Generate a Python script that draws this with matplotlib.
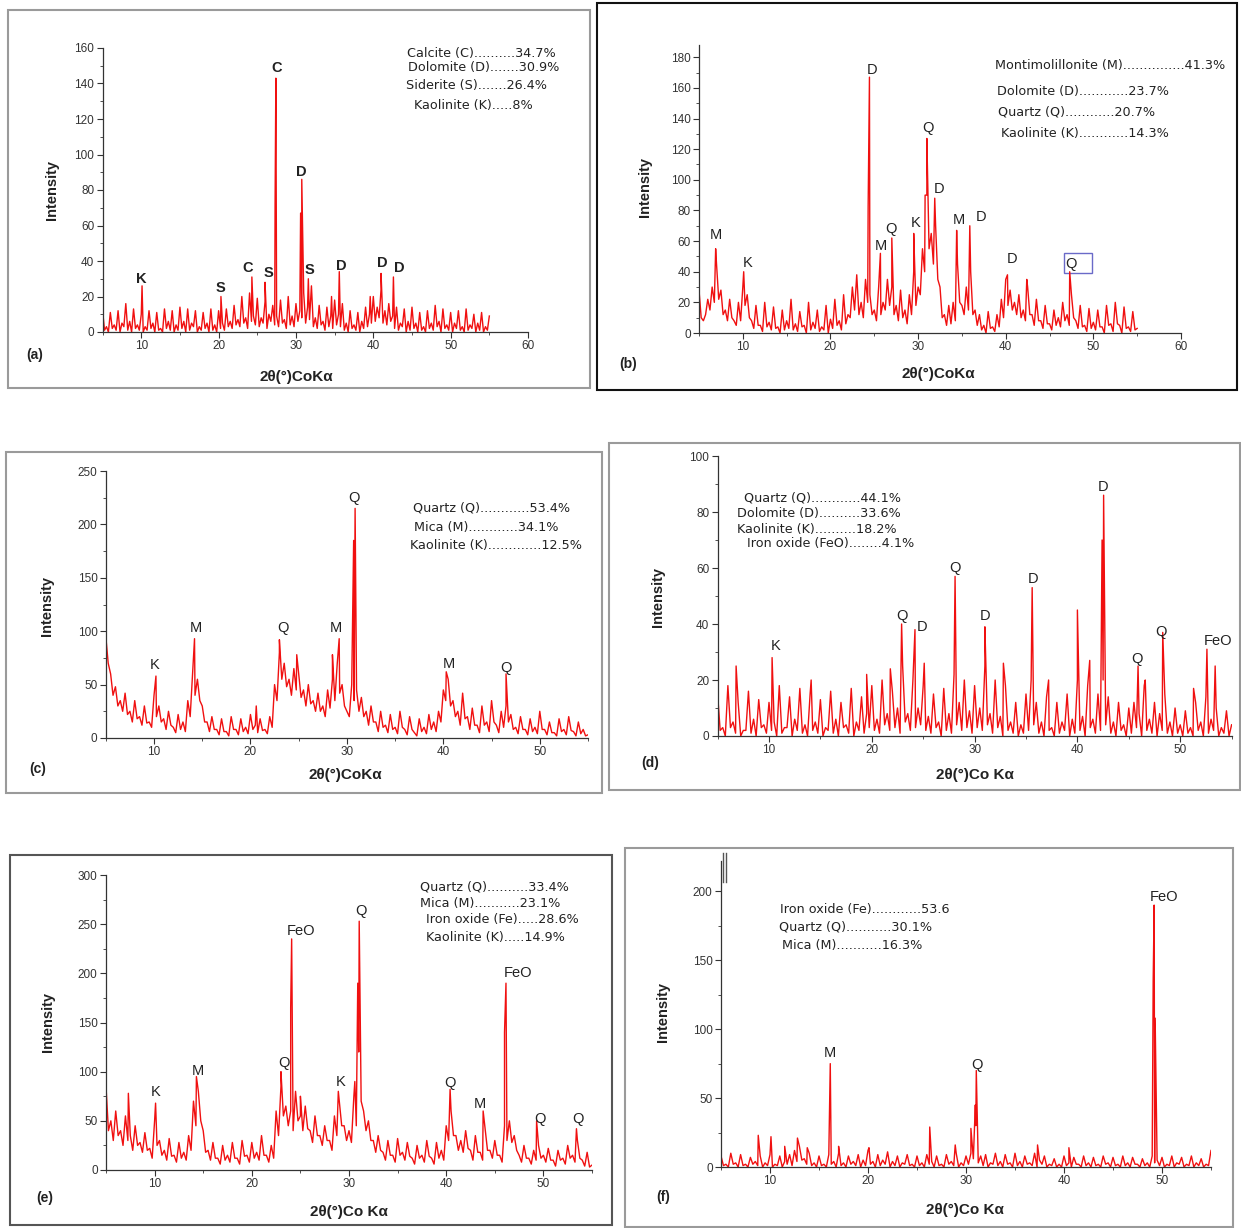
import numpy as np
import matplotlib
matplotlib.use("Agg")
import matplotlib.pyplot as plt
from matplotlib.patches import Rectangle
from matplotlib.lines import Line2D

plt.rcParams['font.family'] = ['Liberation Sans', 'DejaVu Sans']

W, H = 1241, 1228
RED = '#f01010'

# 2theta of the background readings: tops every 0.5 deg (5..55), troughs in between
two_theta = np.arange(5.0, 55.01, 0.5)
two_theta_tr = np.arange(5.25, 54.76, 0.5)

# ---- (a) ----
a_bg = [12, 3, 11, 4, 12, 5, 16, 6, 13, 4, 10, 3, 12, 5, 11, 2, 13, 6, 12, 4,
        14, 6, 13, 5, 12, 3, 11, 5, 13, 4, 12, 5, 13, 6, 15, 7, 20, 8, 22, 9,
        19, 8, 17, 10, 15, 9, 18, 7, 20, 9, 16, 12, 22, 14, 26, 8, 15, 6, 14, 9,
        18, 10, 16, 5, 12, 4, 11, 6, 14, 10, 20, 14, 24, 12, 16, 9, 14, 5, 13, 6,
        14, 5, 11, 3, 12, 5, 15, 6, 13, 4, 11, 5, 12, 3, 13, 4, 10, 5, 11, 3, 9]
a_tr = [1, 0, 2, 1, 0, 3, 1, 0, 2, 1, 0, 1, 2, 0, 1, 0, 2, 1, 0, 1,
        2, 0, 1, 3, 0, 1, 2, 0, 1, 0, 2, 1, 3, 2, 4, 3, 5, 2, 6, 4,
        3, 5, 2, 6, 4, 3, 5, 2, 4, 3, 6, 8, 5, 7, 3, 2, 4, 1, 3, 2,
        4, 3, 1, 0, 2, 1, 0, 2, 3, 5, 6, 8, 5, 4, 6, 2, 1, 3, 0, 1,
        2, 0, 1, 0, 2, 1, 3, 0, 2, 1, 0, 2, 1, 0, 1, 2, 0, 1, 0, 1]
a_peak_x = [10.1, 20.3, 24.3, 26.0, 27.3, 27.4, 30.6, 30.75, 31.6, 34.6, 35.6, 39.6, 41.0, 42.6]
a_peak_y = [26, 20, 31, 28, 72, 143, 67, 86, 30, 20, 34, 20, 33, 31]
a_labels = ['K', 'S', 'C', 'S', 'C', 'D', 'S', 'D', 'D', 'D']
a_label_x = [10.0, 20.2, 23.8, 26.4, 27.5, 30.7, 31.8, 35.9, 41.1, 43.3]
a_label_y = [30, 25, 36, 33, 149, 90, 35, 37, 39, 36]
a_comp = ["Calcite (C)..........34.7%", "Dolomite (D).......30.9%",
          "Siderite (S).......26.4%", "Kaolinite (K).....8%"]

# ---- (b) ----
b_bg = [28, 8, 22, 30, 45, 28, 15, 22, 8, 20, 30, 25, 8, 18, 5, 20, 7, 17, 4, 15,
        8, 22, 6, 14, 5, 20, 7, 15, 4, 18, 9, 22, 8, 25, 12, 30, 38, 20, 35, 25,
        15, 30, 20, 35, 30, 18, 28, 15, 25, 40, 30, 55, 90, 65, 70, 30, 12, 18, 20, 45,
        18, 30, 40, 15, 12, 5, 14, 4, 12, 22, 35, 28, 20, 25, 15, 30, 12, 22, 8, 18,
        6, 15, 10, 20, 12, 25, 8, 18, 5, 16, 7, 15, 4, 18, 6, 20, 5, 17, 4, 14, 3]
b_tr = [10, 12, 15, 20, 22, 12, 8, 10, 5, 8, 18, 10, 3, 5, 1, 4, 2, 3, 0, 2,
        3, 2, 1, 4, 0, 2, 3, 1, 2, 0, 3, 5, 2, 6, 10, 15, 12, 10, 20, 12,
        8, 12, 15, 18, 12, 8, 10, 6, 12, 18, 25, 40, 55, 45, 35, 10, 5, 6, 8, 20,
        12, 15, 12, 5, 2, 0, 3, 1, 4, 10, 18, 15, 12, 10, 8, 12, 5, 8, 3, 6,
        2, 5, 4, 8, 5, 10, 3, 4, 1, 3, 2, 4, 0, 5, 1, 6, 0, 3, 1, 2]
b_peak_x = [6.9, 10.1, 24.3, 24.45, 25.7, 27.0, 29.5, 30.8, 31.0, 31.9, 34.4, 35.9, 40.2, 42.4, 47.3]
b_peak_y = [55, 40, 82, 167, 52, 62, 65, 90, 127, 88, 67, 70, 38, 35, 40]
b_labels = ['M', 'K', 'D', 'M', 'Q', 'K', 'Q', 'D', 'M', 'D', 'D', 'Q']
b_label_x = [6.9, 10.6, 24.7, 25.8, 26.9, 29.7, 31.1, 32.4, 34.7, 37.2, 40.7, 47.4]
b_label_y = [64, 46, 172, 57, 68, 72, 134, 94, 74, 76, 48, 45]
b_comp = ["Montimolillonite (M)...............41.3%", "Dolomite (D)............23.7%",
          "Quartz (Q)............20.7%", "Kaolinite (K)............14.3%"]

# ---- (c) ----
c_bg = [95, 60, 48, 35, 42, 25, 35, 20, 30, 15, 40, 30, 18, 25, 10, 22, 15, 35, 60, 55,
        30, 15, 20, 8, 18, 6, 20, 8, 18, 10, 22, 12, 18, 8, 20, 50, 80, 70, 55, 65,
        60, 45, 50, 35, 42, 30, 45, 55, 70, 50, 25, 50, 45, 38, 25, 30, 15, 25, 12, 22,
        10, 25, 8, 20, 5, 18, 10, 22, 15, 25, 45, 55, 35, 25, 42, 20, 28, 12, 30, 15,
        35, 12, 25, 30, 22, 10, 20, 8, 18, 10, 25, 8, 15, 5, 18, 8, 20, 6, 15, 8, 3]
c_tr = [70, 40, 30, 25, 22, 15, 18, 12, 14, 10, 20, 15, 8, 12, 5, 8, 6, 20, 40, 35,
        15, 6, 8, 3, 6, 2, 8, 3, 6, 4, 8, 5, 7, 4, 10, 35, 55, 48, 40, 45,
        38, 30, 32, 25, 25, 20, 28, 35, 42, 30, 20, 35, 25, 20, 12, 15, 6, 10, 5, 8,
        4, 10, 3, 8, 2, 6, 4, 8, 6, 15, 35, 30, 20, 12, 18, 8, 12, 5, 12, 6,
        15, 5, 10, 15, 8, 4, 8, 3, 6, 4, 8, 3, 5, 2, 6, 3, 7, 2, 4, 2]
c_peak_x = [10.2, 14.2, 20.6, 23.0, 24.8, 28.5, 29.2, 30.7, 30.85, 40.3, 46.5]
c_peak_y = [58, 93, 30, 92, 78, 78, 93, 185, 215, 62, 60]
c_labels = ['K', 'M', 'Q', 'M', 'Q', 'M', 'Q']
c_label_x = [10.1, 14.3, 23.4, 28.9, 30.7, 40.6, 46.5]
c_label_y = [68, 103, 103, 103, 225, 69, 66]
c_comp = ["Quartz (Q)............53.4%", "Mica (M)............34.1%",
          "Kaolinite (K).............12.5%"]

# ---- (d) ----
d_bg = [15, 3, 18, 5, 12, 2, 16, 6, 13, 4, 12, 5, 18, 3, 14, 6, 17, 4, 15, 5,
        13, 3, 16, 6, 12, 4, 17, 5, 14, 8, 18, 6, 20, 8, 16, 10, 25, 8, 20, 10,
        18, 7, 15, 5, 17, 8, 22, 12, 20, 9, 18, 10, 25, 8, 20, 7, 18, 5, 12, 4,
        15, 20, 12, 5, 14, 3, 12, 5, 15, 6, 20, 7, 18, 6, 15, 20, 14, 5, 12, 4,
        10, 12, 8, 18, 6, 12, 8, 15, 5, 10, 4, 9, 3, 12, 5, 14, 6, 10, 3, 9, 4]
d_tr = [2, 0, 3, 1, 0, 2, 1, 0, 3, 1, 2, 0, 1, 3, 0, 2, 1, 0, 2, 1,
        0, 2, 1, 0, 3, 1, 0, 2, 1, 3, 2, 1, 4, 2, 3, 1, 5, 2, 3, 4,
        2, 1, 3, 0, 2, 1, 4, 2, 3, 1, 3, 2, 4, 1, 3, 0, 2, 1, 0, 1,
        2, 4, 1, 0, 2, 0, 1, 2, 0, 1, 2, 0, 3, 1, 2, 4, 1, 0, 2, 0,
        1, 3, 0, 2, 1, 0, 2, 1, 0, 1, 0, 1, 0, 2, 0, 1, 2, 0, 1, 0]
d_peak_x = [6.8, 10.3, 14.1, 19.5, 21.8, 22.9, 24.2, 25.1, 28.1, 31.0, 32.8, 35.6,
            37.2, 40.0, 41.2, 42.4, 42.55, 45.9, 46.6, 48.3, 51.3, 52.6, 53.4]
d_peak_y = [25, 28, 20, 22, 24, 40, 38, 26, 57, 39, 26, 53,
            20, 45, 27, 70, 86, 25, 20, 37, 17, 31, 25]
d_labels = ['K', 'Q', 'D', 'Q', 'D', 'D', 'D', 'Q', 'Q', 'FeO']
d_label_x = [10.6, 22.9, 24.9, 28.1, 31.0, 35.7, 42.5, 45.8, 48.1, 53.7]
d_label_y = [32, 43, 39, 60, 43, 56, 89, 27.5, 37, 34]
d_comp = ["Quartz (Q)............44.1%", "Dolomite (D)..........33.6%",
          "Kaolinite (K)..........18.2%", "Iron oxide (FeO)........4.1%"]

# ---- (e) ----
e_bg = [85, 50, 60, 40, 55, 35, 45, 28, 38, 22, 50, 30, 20, 32, 15, 28, 18, 35, 70, 80,
        40, 20, 28, 12, 25, 15, 28, 12, 30, 15, 28, 18, 35, 15, 25, 60, 85, 65, 60, 80,
        55, 65, 40, 55, 35, 45, 30, 55, 70, 45, 40, 75, 120, 60, 50, 30, 35, 18, 30, 15,
        32, 18, 28, 12, 25, 15, 30, 12, 28, 20, 45, 60, 35, 30, 40, 20, 35, 18, 42, 20,
        30, 15, 45, 50, 35, 15, 25, 12, 20, 25, 15, 22, 10, 20, 12, 25, 15, 30, 10, 18, 5]
e_tr = [40, 30, 35, 25, 30, 20, 25, 18, 20, 12, 25, 15, 10, 14, 8, 12, 10, 20, 45, 50,
        18, 10, 12, 6, 10, 8, 12, 6, 14, 8, 12, 10, 15, 8, 12, 35, 55, 45, 40, 50,
        40, 42, 28, 35, 25, 30, 20, 35, 45, 30, 28, 45, 70, 40, 30, 18, 20, 10, 15, 8,
        15, 10, 14, 6, 12, 8, 14, 6, 12, 10, 30, 35, 20, 18, 22, 10, 18, 10, 20, 12,
        15, 8, 30, 28, 20, 8, 12, 6, 10, 12, 8, 10, 4, 10, 6, 12, 8, 12, 4, 3]
e_peak_x = [7.3, 10.1, 14.3, 23.0, 24.0, 24.1, 25.0, 28.9, 30.6, 30.9, 31.05,
            40.4, 43.8, 46.0, 46.15, 49.3, 53.4]
e_peak_y = [78, 68, 95, 100, 165, 235, 75, 80, 90, 190, 253,
            82, 60, 140, 190, 50, 42]
e_labels = ['K', 'M', 'Q', 'FeO', 'K', 'Q', 'Q', 'M', 'FeO', 'Q', 'Q']
e_label_x = [10.1, 14.5, 23.3, 25.1, 29.1, 31.2, 40.4, 43.5, 47.4, 49.6, 53.6]
e_label_y = [79, 101, 109, 243, 90, 263, 88, 67, 200, 52, 52]
e_comp = ["Quartz (Q)..........33.4%", "Mica (M)...........23.1%",
          "Iron oxide (Fe).....28.6%", "Kaolinite (K).....14.9%"]

# ---- (f) ----
f_bg = [8, 2, 10, 3, 9, 2, 7, 4, 8, 3, 9, 2, 8, 4, 9, 12, 15, 6, 10, 3,
        8, 2, 9, 4, 10, 3, 8, 4, 9, 5, 12, 4, 9, 5, 11, 4, 8, 3, 9, 2,
        8, 3, 9, 4, 8, 2, 9, 4, 10, 3, 8, 10, 30, 8, 9, 3, 10, 4, 9, 3,
        10, 4, 8, 3, 10, 5, 8, 2, 6, 2, 8, 3, 7, 2, 8, 3, 7, 2, 8, 3,
        7, 2, 8, 3, 7, 2, 6, 3, 8, 5, 7, 2, 8, 3, 7, 2, 8, 3, 6, 2, 12]
f_tr = [1, 0, 2, 0, 1, 0, 2, 1, 0, 1, 0, 1, 0, 2, 1, 4, 5, 2, 1, 0,
        1, 0, 2, 0, 1, 0, 2, 1, 0, 1, 2, 0, 1, 2, 0, 1, 0, 2, 1, 0,
        1, 0, 2, 0, 1, 0, 2, 1, 0, 1, 2, 6, 3, 1, 0, 2, 1, 0, 2, 0,
        1, 0, 2, 1, 0, 2, 0, 1, 0, 0, 1, 0, 2, 0, 1, 0, 1, 0, 2, 0,
        1, 0, 1, 0, 2, 0, 1, 0, 3, 1, 0, 1, 0, 2, 0, 1, 0, 1, 0, 1]
f_peak_x = [8.8, 10.1, 11.5, 12.8, 13.8, 16.15, 17.0, 20.1, 26.3, 28.9, 30.5,
            30.95, 31.05, 37.3, 40.5, 49.1, 49.2, 49.3]
f_peak_y = [23, 22, 15, 21, 14, 75, 15, 14, 29, 16, 28,
            45, 70, 16, 14, 135, 190, 108]
f_labels = ['M', 'Q', 'FeO']
f_label_x = [16.1, 31.1, 50.2]
f_label_y = [83, 74, 196]
f_comp = ["Iron oxide (Fe)............53.6", "Quartz (Q)...........30.1%",
          "Mica (M)...........16.3%"]


def fx(x):
    return x / W


def fy(y):
    return 1 - y / H


fig = plt.figure(figsize=(12.41, 12.28), dpi=100)

panels = [
    dict(tag='(a)', bg=a_bg, tr=a_tr, px=a_peak_x, py=a_peak_y, lab=a_labels, lx=a_label_x, ly=a_label_y,
         comp=a_comp, ax=(102.6, 528, 48, 332), xmax=60, ymax=160, ystep=20,
         box=(8, 10, 590, 388), bc='#9a9a9a', tpos=(35, 355), xl=(296, 377), yl=(52, 190),
         cx=[481, 484, 476, 473], cy=[53, 68, 86, 106], xt='2θ(°)CoKα', bold=True),
    dict(tag='(b)', bg=b_bg, tr=b_tr, px=b_peak_x, py=b_peak_y, lab=b_labels, lx=b_label_x, ly=b_label_y,
         comp=b_comp, ax=(699, 1181, 45, 333), xmax=60, ymax=188, ystep=20,
         box=(597, 3, 1237, 390), bc='#111111', tpos=(628, 364), xl=(938, 374), yl=(645, 187),
         cx=[1110, 1083, 1077, 1085], cy=[65, 92, 112, 133], xt='2θ(°)CoKα', bold=False),
    dict(tag='(c)', bg=c_bg, tr=c_tr, px=c_peak_x, py=c_peak_y, lab=c_labels, lx=c_label_x, ly=c_label_y,
         comp=c_comp, ax=(105.8, 588, 471, 738), xmax=55, ymax=250, ystep=50,
         box=(6, 452, 602, 793), bc='#9a9a9a', tpos=(38, 769), xl=(345, 775), yl=(47, 606),
         cx=[492, 486, 496], cy=[508, 527, 545], xt='2θ(°)CoKα', bold=False),
    dict(tag='(d)', bg=d_bg, tr=d_tr, px=d_peak_x, py=d_peak_y, lab=d_labels, lx=d_label_x, ly=d_label_y,
         comp=d_comp, ax=(717.6, 1231.6, 456, 736), xmax=55, ymax=100, ystep=20,
         box=(609, 443, 1240, 790), bc='#9a9a9a', tpos=(650, 763), xl=(975, 775), yl=(658, 597),
         cx=[822, 819, 817, 831], cy=[498, 513, 529, 544], xt='2θ(°)Co Kα', bold=False),
    dict(tag='(e)', bg=e_bg, tr=e_tr, px=e_peak_x, py=e_peak_y, lab=e_labels, lx=e_label_x, ly=e_label_y,
         comp=e_comp, ax=(106, 592, 875, 1170), xmax=55, ymax=300, ystep=50,
         box=(10, 855, 612, 1225), bc='#555555', tpos=(45, 1198), xl=(349, 1212), yl=(48, 1022),
         cx=[494, 490, 502, 495], cy=[887, 903, 919, 938], xt='2θ(°)Co Kα', bold=False),
    dict(tag='(f)', bg=f_bg, tr=f_tr, px=f_peak_x, py=f_peak_y, lab=f_labels, lx=f_label_x, ly=f_label_y,
         comp=f_comp, ax=(721, 1211, 861, 1167), xmax=55, ymax=222, ystep=50,
         box=(625, 848, 1233, 1227), bc='#9a9a9a', tpos=(663, 1197), xl=(965, 1210), yl=(663, 1012),
         cx=[865, 856, 852], cy=[910, 927, 946], xt='2θ(°)Co Kα', bold=False),
]

for p in panels:
    bx0, by0, bx1, by1 = p['box']
    fig.patches.append(Rectangle((fx(bx0), fy(by1)), fx(bx1 - bx0), (by1 - by0) / H,
                                 transform=fig.transFigure, fill=False,
                                 edgecolor=p['bc'], lw=1.5))

    x0, x1, yt, yb = p['ax']
    ax = fig.add_axes([fx(x0), fy(yb), fx(x1 - x0), (yb - yt) / H])
    xs = np.concatenate([two_theta, two_theta_tr, p['px']])
    ys = np.concatenate([p['bg'], p['tr'], p['py']])
    order = np.argsort(xs, kind='stable')
    ax.plot(xs[order], ys[order], color=RED, lw=1.0)

    ax.set_xlim(5, p['xmax'])
    ax.set_ylim(0, p['ymax'])
    ax.set_xticks(np.arange(10, p['xmax'] + 1, 10))
    ax.set_xticks(np.arange(5, p['xmax'] + 1, 5), minor=True)
    ax.set_yticks(np.arange(0, p['ymax'] + 1, p['ystep']))
    ax.set_yticks(np.arange(0, p['ymax'] + 1, p['ystep'] / 2), minor=True)
    for s in ['top', 'right']:
        ax.spines[s].set_visible(False)
    for s in ['left', 'bottom']:
        ax.spines[s].set_color('#333333')
        ax.spines[s].set_linewidth(0.9)
    ax.tick_params(direction='out', length=4, width=0.8, labelsize=8.5,
                   colors='#333333', pad=2)
    ax.tick_params(which='minor', direction='out', length=2.5, width=0.6, colors='#333333')
    ax.patch.set_alpha(0)

    w = 'bold' if p['bold'] else 'normal'
    for t, lx, ly in zip(p['lab'], p['lx'], p['ly']):
        ax.text(lx, ly, t, ha='center', va='center', fontsize=10.5, fontweight=w,
                color='#222222')

    for t, cx, cy in zip(p['comp'], p['cx'], p['cy']):
        fig.text(fx(cx), fy(cy), t, ha='center', va='center', fontsize=9.2,
                 family='DejaVu Sans', color='#222222')

    fig.text(fx(p['tpos'][0]), fy(p['tpos'][1]), p['tag'], ha='center', va='center',
             fontsize=10, fontweight='bold', color='#222222')
    fig.text(fx(p['xl'][0]), fy(p['xl'][1]), p['xt'], ha='center', va='center',
             fontsize=11, fontweight='bold', color='#222222')
    fig.text(fx(p['yl'][0]), fy(p['yl'][1]), 'Intensity', ha='center', va='center',
             rotation=90, fontsize=10.5, fontweight='bold', color='#222222')

# box round the Q peak of panel (b)
ax_b = fig.axes[1]
ax_b.add_patch(Rectangle((46.6, 39), 3.3, 13, fill=False, edgecolor='#6a6ac8', lw=1))

# short double bar at the top of the (f) axis
for xb in (723, 726):
    fig.lines.append(Line2D([fx(xb), fx(xb)], [fy(882), fy(853)], transform=fig.transFigure,
                            color='#555555', lw=1))

fig.savefig('out.png', dpi=100)
